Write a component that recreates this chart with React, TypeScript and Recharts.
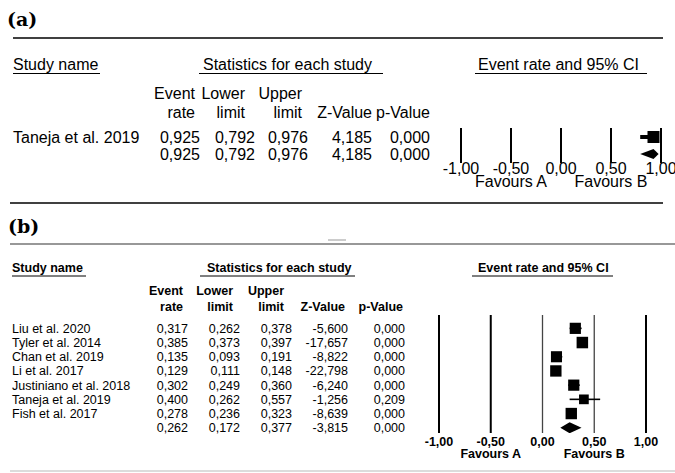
import { ScatterChart, Scatter, XAxis, YAxis, ReferenceLine, ErrorBar } from 'recharts';

// shared labels
const headerTitles = ['Study name', 'Statistics for each study', 'Event rate and 95% CI'];
const colHead1 = ['Event', 'Lower', 'Upper', '', ''];
const colHead2 = ['rate', 'limit', 'limit', 'Z-Value', 'p-Value'];
const axisTicks = [-1, -0.5, 0, 0.5, 1];

// panel (a)
const aStudies = ['Taneja et al. 2019'];
const aRate = [0.925];
const aLower = [0.792];
const aUpper = [0.976];
const aZ = [4.185];
const aP = [0.0];
const aWeight = [100];
const aPooled = [0.925, 0.792, 0.976, 4.185, 0.0];

// panel (b)
const bStudies = [
  'Liu et al. 2020',
  'Tyler et al. 2014',
  'Chan et al. 2019',
  'Li et al. 2017',
  'Justiniano et al. 2018',
  'Taneja et al. 2019',
  'Fish et al. 2017',
];
const bRate = [0.317, 0.385, 0.135, 0.129, 0.302, 0.4, 0.278];
const bLower = [0.262, 0.373, 0.093, 0.111, 0.249, 0.262, 0.236];
const bUpper = [0.378, 0.397, 0.191, 0.148, 0.36, 0.557, 0.323];
const bZ = [-5.6, -17.657, -8.822, -22.798, -6.24, -1.256, -8.639];
const bP = [0, 0, 0, 0, 0, 0.209, 0];
const bWeight = [14.6, 15.4, 14.3, 15.0, 14.6, 11.0, 15.1];
const bPooled = [0.262, 0.172, 0.377, -3.815, 0.0];

const font = '"Liberation Sans", Arial, Helvetica, sans-serif';
const serif = '"DejaVu Serif", "Liberation Serif", serif';
const fmt = (v: number, d = 3) => v.toFixed(d).replace('.', ',');

type Layout = {
  fs: number;
  headWeight: string;
  titleY: number;
  ulY: number;
  titles: { x: number; ul: [number, number] }[];
  h1Y: number;
  h2Y: number;
  headRight: number[];
  valRight: number[];
  nameX: number;
  rowY0: number;
  rowStep: number;
};

const layoutA: Layout = {
  fs: 16,
  headWeight: 'normal',
  titleY: 70,
  ulY: 73.5,
  titles: [
    { x: 13, ul: [13, 100] },
    { x: 203, ul: [199, 383] },
    { x: 478, ul: [475, 647] },
  ],
  h1Y: 99,
  h2Y: 118,
  headRight: [195, 245, 302, 372, 430],
  valRight: [200, 255, 308, 372, 430],
  nameX: 13,
  rowY0: 143,
  rowStep: 17,
};

const layoutB: Layout = {
  fs: 12.5,
  headWeight: 'bold',
  titleY: 272,
  ulY: 276,
  titles: [
    { x: 12, ul: [12, 86] },
    { x: 207, ul: [200, 355] },
    { x: 478, ul: [472, 613] },
  ],
  h1Y: 294.5,
  h2Y: 310.5,
  headRight: [183, 233, 284, 345, 403],
  valRight: [188, 240, 292, 348, 405],
  nameX: 12,
  rowY0: 332.8,
  rowStep: 14.2,
};

function TableText({ names, cols, pooled, L }: { names: string[]; cols: number[][]; pooled: number[]; L: Layout }) {
  const rows = names.map((n, i) => ({ name: n, vals: cols.map((c) => c[i]) }));
  rows.push({ name: '', vals: pooled });
  return (
    <g fontFamily={font} fontSize={L.fs} fill="#000">
      {L.titles.map((t, i) => (
        <g key={i}>
          <text x={t.x} y={L.titleY} fontWeight={L.headWeight}>{headerTitles[i]}</text>
          <line x1={t.ul[0]} x2={t.ul[1]} y1={L.ulY} y2={L.ulY} stroke="#000" strokeWidth={1} />
        </g>
      ))}
      {colHead1.map((h, i) => (
        <text key={'h1' + i} x={L.headRight[i]} y={L.h1Y} textAnchor="end" fontWeight={L.headWeight}>{h}</text>
      ))}
      {colHead2.map((h, i) => (
        <text key={'h2' + i} x={L.headRight[i]} y={L.h2Y} textAnchor="end" fontWeight={L.headWeight}>{h}</text>
      ))}
      {rows.map((r, ri) => (
        <g key={'r' + ri}>
          <text x={L.nameX} y={L.rowY0 + ri * L.rowStep}>{r.name}</text>
          {r.vals.map((v, ci) => (
            <text key={ci} x={L.valRight[ci]} y={L.rowY0 + ri * L.rowStep} textAnchor="end">{fmt(v)}</text>
          ))}
        </g>
      ))}
    </g>
  );
}

function makeTick(fs: number, bold: boolean, numDy: number, favDy: number) {
  return (props: any) => {
    const { x, y, payload } = props;
    const v = payload.value as number;
    return (
      <g fontFamily={font} fontSize={fs} fontWeight={bold ? 'bold' : 'normal'} fill="#000">
        <text x={x} y={y + numDy} textAnchor="middle">{fmt(v, 2)}</text>
        {v === -0.5 && <text x={x} y={y + favDy} textAnchor="middle">Favours A</text>}
        {v === 0.5 && <text x={x} y={y + favDy} textAnchor="middle">Favours B</text>}
      </g>
    );
  };
}

function makeSquare(maxSide: number, maxW: number) {
  return (props: any) => {
    const { cx, cy, payload } = props;
    const s = maxSide * Math.sqrt(payload.w / maxW);
    return <rect x={cx - s / 2} y={cy - s / 2} width={s} height={s} fill="#000" />;
  };
}

// pooled estimate drawn as a diamond through the scatter line points (lower, estimate, upper)
function makeDiamond(h: number) {
  return (props: any) => {
    const pts = props.points;
    if (!pts || pts.length < 3) return <g />;
    const [l, c, r] = pts;
    const d = `M${l.x},${c.y}L${c.x},${c.y - h}L${r.x},${c.y}L${c.x},${c.y + h}Z`;
    return <path d={d} fill="#000" />;
  };
}

const EmptyShape = () => <g />;

type PlotProps = {
  rate: number[];
  lower: number[];
  upper: number[];
  weight: number[];
  pooled: number[];
  width: number;
  height: number;
  margin: { top: number; right: number; bottom: number; left: number };
  yDomain: [number, number];
  maxSide: number;
  ciWidth: number;
  diamondH: number;
  fs: number;
  bold: boolean;
  numDy: number;
  favDy: number;
  thinLines: number[];
};

function ForestPlot(p: PlotProps) {
  const studyPts = p.rate.map((v, i) => ({
    x: v,
    row: i,
    w: p.weight[i],
    err: [v - p.lower[i], p.upper[i] - v],
  }));
  const pooledRow = p.rate.length;
  const pooledPts = [p.pooled[1], p.pooled[0], p.pooled[2]].map((v) => ({ x: v, row: pooledRow }));
  const maxW = Math.max(...p.weight);
  return (
    <ScatterChart width={p.width} height={p.height} margin={p.margin}>
      <XAxis
        type="number"
        dataKey="x"
        domain={[-1, 1]}
        ticks={axisTicks}
        interval={0}
        allowDataOverflow
        axisLine={false}
        tickLine={false}
        tickSize={0}
        tickMargin={0}
        height={30}
        tick={makeTick(p.fs, p.bold, p.numDy, p.favDy)}
      />
      <YAxis type="number" dataKey="row" domain={p.yDomain} reversed hide allowDataOverflow />
      {axisTicks.map((t) => (
        <ReferenceLine
          key={t}
          x={t}
          stroke={p.thinLines.includes(t) ? '#444' : '#000'}
          strokeWidth={p.thinLines.includes(t) ? 1.3 : 2}
        />
      ))}
      <Scatter data={studyPts} fill="#000" shape={makeSquare(p.maxSide, maxW)} isAnimationActive={false}>
        <ErrorBar dataKey="err" direction="x" width={0} stroke="#000" strokeWidth={p.ciWidth} />
      </Scatter>
      <Scatter
        data={pooledPts}
        fill="#000"
        shape={EmptyShape}
        line={makeDiamond(p.diamondH)}
        lineType="joint"
        isAnimationActive={false}
      />
    </ScatterChart>
  );
}

export default function App() {
  return (
    <div style={{ position: 'absolute', left: 0, top: 0, width: 675, height: 473, background: '#fff', overflow: 'hidden' }}>
      <svg width={675} height={473} style={{ position: 'absolute', left: 0, top: 0 }}>
        <text x={7} y={26} fontFamily={serif} fontWeight="bold" fontSize={19}>(a)</text>
        <line x1={13} x2={663} y1={38} y2={38} stroke="#000" strokeWidth={1.6} />
        <TableText names={aStudies} cols={[aRate, aLower, aUpper, aZ, aP]} pooled={aPooled} L={layoutA} />
        <line x1={10} x2={663} y1={203} y2={203} stroke="#000" strokeWidth={1.6} />
        <text x={8} y={233} fontFamily={serif} fontWeight="bold" fontSize={19}>(b)</text>
        <line x1={328} x2={346} y1={240} y2={240} stroke="#999" strokeWidth={1} />
        <line x1={10} x2={675} y1={244} y2={244} stroke="#333" strokeWidth={1.2} />
        <TableText names={bStudies} cols={[bRate, bLower, bUpper, bZ, bP]} pooled={bPooled} L={layoutB} />
        <line x1={10} x2={675} y1={471} y2={471} stroke="#d0d0d0" strokeWidth={1.5} />
      </svg>
      <div style={{ position: 'absolute', left: 431, top: 123 }}>
        <ForestPlot
          rate={aRate}
          lower={aLower}
          upper={aUpper}
          weight={aWeight}
          pooled={aPooled}
          width={244}
          height={70}
          margin={{ top: 5, right: 14, bottom: 0, left: 30 }}
          yDomain={[-0.53, 1.53]}
          maxSide={12}
          ciWidth={4}
          diamondH={5}
          fs={16}
          bold={false}
          numDy={11}
          favDy={24}
          thinLines={[]}
        />
      </div>
      <div style={{ position: 'absolute', left: 409, top: 310 }}>
        <ForestPlot
          rate={bRate}
          lower={bLower}
          upper={bUpper}
          weight={bWeight}
          pooled={bPooled}
          width={266}
          height={153}
          margin={{ top: 5, right: 29, bottom: 0, left: 30 }}
          yDomain={[-0.94, 7.37]}
          maxSide={11.5}
          ciWidth={1.6}
          diamondH={5.5}
          fs={12.5}
          bold={true}
          numDy={13}
          favDy={24.5}
          thinLines={[0, 0.5]}
        />
      </div>
    </div>
  );
}
